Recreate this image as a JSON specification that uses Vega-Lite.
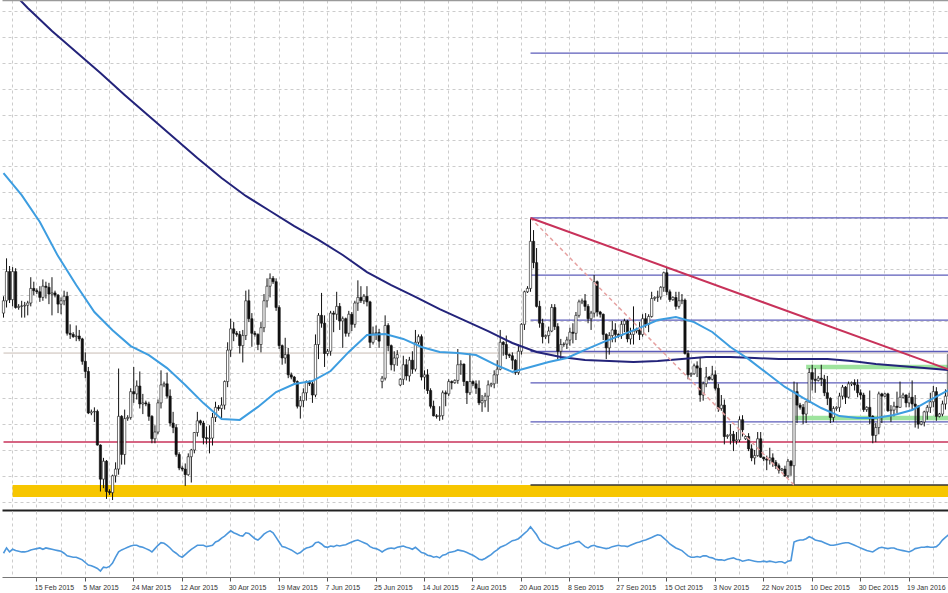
{
"$schema":"https://vega.github.io/schema/vega-lite/v6.json",
"padding":0,
"background":"white",
"spacing":1,
"config":{"view":{"stroke":null},"font":"Liberation Sans"},
"params":[{"name":"lbl","value":["2015-02-15","2015-03-05","2015-03-24","2015-04-12","2015-04-30","2015-05-19","2015-06-07","2015-06-25","2015-07-14","2015-08-02","2015-08-20","2015-09-08","2015-09-27","2015-10-15","2015-11-03","2015-11-22","2015-12-10","2015-12-30","2016-01-19"]}],
"datasets":{
"k":[
{"d":"2015-02-02","o":1.129,"h":1.1365,"l":1.127,"c":1.1345,"r":36},
{"d":"2015-02-03","o":1.1345,"h":1.1534,"l":1.1315,"c":1.1475,"r":44},
{"d":"2015-02-04","o":1.1475,"h":1.15,"l":1.1335,"c":1.135,"r":38},
{"d":"2015-02-05","o":1.135,"h":1.1495,"l":1.132,"c":1.1475,"r":42},
{"d":"2015-02-06","o":1.1475,"h":1.149,"l":1.131,"c":1.1315,"r":40},
{"d":"2015-02-08","o":1.1315,"h":1.133,"l":1.1305,"c":1.132,"r":39},
{"d":"2015-02-09","o":1.132,"h":1.1345,"l":1.127,"c":1.1322,"r":38},
{"d":"2015-02-10","o":1.1322,"h":1.134,"l":1.127,"c":1.1325,"r":38},
{"d":"2015-02-11","o":1.1325,"h":1.1345,"l":1.128,"c":1.1335,"r":39},
{"d":"2015-02-12","o":1.1335,"h":1.145,"l":1.132,"c":1.14,"r":41},
{"d":"2015-02-13","o":1.14,"h":1.143,"l":1.137,"c":1.139,"r":42},
{"d":"2015-02-15","o":1.139,"h":1.14,"l":1.1375,"c":1.1385,"r":43},
{"d":"2015-02-16","o":1.1385,"h":1.141,"l":1.134,"c":1.136,"r":44},
{"d":"2015-02-17","o":1.136,"h":1.144,"l":1.1345,"c":1.141,"r":42},
{"d":"2015-02-18","o":1.141,"h":1.143,"l":1.1355,"c":1.1405,"r":44},
{"d":"2015-02-19","o":1.1405,"h":1.1425,"l":1.133,"c":1.1375,"r":43},
{"d":"2015-02-20","o":1.1375,"h":1.145,"l":1.128,"c":1.138,"r":42},
{"d":"2015-02-22","o":1.138,"h":1.139,"l":1.136,"c":1.137,"r":41},
{"d":"2015-02-23","o":1.137,"h":1.1375,"l":1.129,"c":1.133,"r":40},
{"d":"2015-02-24","o":1.133,"h":1.136,"l":1.1285,"c":1.1345,"r":39},
{"d":"2015-02-25","o":1.1345,"h":1.139,"l":1.1325,"c":1.1365,"r":36},
{"d":"2015-02-26","o":1.1365,"h":1.1385,"l":1.119,"c":1.12,"r":32},
{"d":"2015-02-27","o":1.12,"h":1.124,"l":1.1175,"c":1.1195,"r":31},
{"d":"2015-03-01","o":1.1195,"h":1.1205,"l":1.118,"c":1.1185,"r":30},
{"d":"2015-03-02","o":1.1185,"h":1.1235,"l":1.1165,"c":1.1188,"r":30},
{"d":"2015-03-03","o":1.1188,"h":1.1215,"l":1.1165,"c":1.1175,"r":28},
{"d":"2015-03-04","o":1.1175,"h":1.118,"l":1.106,"c":1.1075,"r":26},
{"d":"2015-03-05","o":1.1075,"h":1.1115,"l":1.1,"c":1.103,"r":22},
{"d":"2015-03-06","o":1.103,"h":1.105,"l":1.084,"c":1.0845,"r":18},
{"d":"2015-03-08","o":1.0845,"h":1.086,"l":1.0835,"c":1.085,"r":17},
{"d":"2015-03-09","o":1.085,"h":1.087,"l":1.0805,"c":1.0852,"r":15},
{"d":"2015-03-10","o":1.0852,"h":1.086,"l":1.07,"c":1.0702,"r":13},
{"d":"2015-03-11","o":1.0702,"h":1.0705,"l":1.0495,"c":1.055,"r":9},
{"d":"2015-03-12","o":1.055,"h":1.0645,"l":1.051,"c":1.063,"r":15},
{"d":"2015-03-13","o":1.063,"h":1.0635,"l":1.0462,"c":1.0495,"r":14},
{"d":"2015-03-15","o":1.0495,"h":1.0505,"l":1.048,"c":1.049,"r":16},
{"d":"2015-03-16","o":1.049,"h":1.057,"l":1.0457,"c":1.0565,"r":21},
{"d":"2015-03-17","o":1.0565,"h":1.0625,"l":1.0535,"c":1.0595,"r":30},
{"d":"2015-03-18","o":1.0595,"h":1.1043,"l":1.057,"c":1.083,"r":38},
{"d":"2015-03-19","o":1.083,"h":1.0835,"l":1.0615,"c":1.066,"r":41},
{"d":"2015-03-20","o":1.066,"h":1.086,"l":1.0615,"c":1.082,"r":43},
{"d":"2015-03-22","o":1.082,"h":1.0835,"l":1.081,"c":1.0825,"r":45},
{"d":"2015-03-23","o":1.0825,"h":1.0955,"l":1.0815,"c":1.094,"r":47},
{"d":"2015-03-24","o":1.094,"h":1.105,"l":1.089,"c":1.093,"r":48},
{"d":"2015-03-25","o":1.093,"h":1.099,"l":1.0905,"c":1.0965,"r":48},
{"d":"2015-03-26","o":1.0965,"h":1.103,"l":1.0865,"c":1.0885,"r":46},
{"d":"2015-03-27","o":1.0885,"h":1.093,"l":1.084,"c":1.089,"r":45},
{"d":"2015-03-29","o":1.089,"h":1.09,"l":1.0875,"c":1.0885,"r":43},
{"d":"2015-03-30","o":1.0885,"h":1.0895,"l":1.081,"c":1.083,"r":41},
{"d":"2015-03-31","o":1.083,"h":1.0835,"l":1.071,"c":1.073,"r":38},
{"d":"2015-04-01","o":1.073,"h":1.079,"l":1.071,"c":1.076,"r":43},
{"d":"2015-04-02","o":1.076,"h":1.0905,"l":1.075,"c":1.089,"r":48},
{"d":"2015-04-03","o":1.089,"h":1.1035,"l":1.0865,"c":1.097,"r":52},
{"d":"2015-04-05","o":1.097,"h":1.0985,"l":1.096,"c":1.0975,"r":51},
{"d":"2015-04-06","o":1.0975,"h":1.1025,"l":1.091,"c":1.092,"r":48},
{"d":"2015-04-07","o":1.092,"h":1.095,"l":1.0785,"c":1.08,"r":44},
{"d":"2015-04-08","o":1.08,"h":1.085,"l":1.0755,"c":1.078,"r":39},
{"d":"2015-04-09","o":1.078,"h":1.0795,"l":1.065,"c":1.066,"r":36},
{"d":"2015-04-10","o":1.066,"h":1.067,"l":1.059,"c":1.06,"r":32},
{"d":"2015-04-12","o":1.06,"h":1.061,"l":1.0585,"c":1.0595,"r":30},
{"d":"2015-04-13","o":1.0595,"h":1.062,"l":1.052,"c":1.057,"r":34},
{"d":"2015-04-14","o":1.057,"h":1.0665,"l":1.0565,"c":1.065,"r":38},
{"d":"2015-04-15","o":1.065,"h":1.0685,"l":1.0535,"c":1.068,"r":42},
{"d":"2015-04-16","o":1.068,"h":1.076,"l":1.0665,"c":1.0758,"r":45},
{"d":"2015-04-17","o":1.0758,"h":1.085,"l":1.074,"c":1.081,"r":48},
{"d":"2015-04-19","o":1.081,"h":1.0815,"l":1.079,"c":1.08,"r":48},
{"d":"2015-04-20","o":1.08,"h":1.081,"l":1.0705,"c":1.0735,"r":48},
{"d":"2015-04-21","o":1.0735,"h":1.0785,"l":1.0705,"c":1.073,"r":46},
{"d":"2015-04-22","o":1.073,"h":1.079,"l":1.0665,"c":1.0733,"r":47},
{"d":"2015-04-23","o":1.0733,"h":1.0845,"l":1.07,"c":1.0825,"r":48},
{"d":"2015-04-24","o":1.0825,"h":1.0895,"l":1.0805,"c":1.087,"r":53},
{"d":"2015-04-26","o":1.087,"h":1.088,"l":1.0855,"c":1.0865,"r":55},
{"d":"2015-04-27","o":1.0865,"h":1.0915,"l":1.082,"c":1.088,"r":59},
{"d":"2015-04-28","o":1.088,"h":1.099,"l":1.086,"c":1.0985,"r":62},
{"d":"2015-04-29","o":1.0985,"h":1.116,"l":1.096,"c":1.1125,"r":66},
{"d":"2015-04-30","o":1.1125,"h":1.1265,"l":1.1095,"c":1.122,"r":70},
{"d":"2015-05-01","o":1.122,"h":1.125,"l":1.1165,"c":1.12,"r":67},
{"d":"2015-05-03","o":1.12,"h":1.121,"l":1.1185,"c":1.1195,"r":65},
{"d":"2015-05-04","o":1.1195,"h":1.121,"l":1.111,"c":1.1145,"r":63},
{"d":"2015-05-05","o":1.1145,"h":1.1215,"l":1.107,"c":1.119,"r":62},
{"d":"2015-05-06","o":1.119,"h":1.139,"l":1.117,"c":1.1345,"r":67},
{"d":"2015-05-07","o":1.1345,"h":1.1395,"l":1.125,"c":1.1265,"r":66},
{"d":"2015-05-08","o":1.1265,"h":1.129,"l":1.114,"c":1.12,"r":62},
{"d":"2015-05-10","o":1.12,"h":1.121,"l":1.1185,"c":1.1195,"r":58},
{"d":"2015-05-11","o":1.1195,"h":1.12,"l":1.1125,"c":1.115,"r":56},
{"d":"2015-05-12","o":1.115,"h":1.125,"l":1.1115,"c":1.1225,"r":60},
{"d":"2015-05-13","o":1.1225,"h":1.1375,"l":1.1205,"c":1.1345,"r":65},
{"d":"2015-05-14","o":1.1345,"h":1.1445,"l":1.1315,"c":1.141,"r":68},
{"d":"2015-05-15","o":1.141,"h":1.1467,"l":1.136,"c":1.1445,"r":70},
{"d":"2015-05-17","o":1.1445,"h":1.1455,"l":1.142,"c":1.143,"r":67},
{"d":"2015-05-18","o":1.143,"h":1.1445,"l":1.13,"c":1.1315,"r":60},
{"d":"2015-05-19","o":1.1315,"h":1.1325,"l":1.113,"c":1.1145,"r":53},
{"d":"2015-05-20","o":1.1145,"h":1.115,"l":1.106,"c":1.109,"r":46},
{"d":"2015-05-21","o":1.109,"h":1.118,"l":1.1065,"c":1.1105,"r":45},
{"d":"2015-05-22","o":1.1105,"h":1.1135,"l":1.1,"c":1.1015,"r":43},
{"d":"2015-05-24","o":1.1015,"h":1.1025,"l":1.0995,"c":1.1005,"r":41},
{"d":"2015-05-25","o":1.1005,"h":1.101,"l":1.097,"c":1.0985,"r":38},
{"d":"2015-05-26","o":1.0985,"h":1.099,"l":1.0865,"c":1.0875,"r":35},
{"d":"2015-05-27","o":1.0875,"h":1.092,"l":1.082,"c":1.09,"r":37},
{"d":"2015-05-28","o":1.09,"h":1.0955,"l":1.087,"c":1.0935,"r":41},
{"d":"2015-05-29","o":1.0935,"h":1.099,"l":1.09,"c":1.0985,"r":44},
{"d":"2015-05-31","o":1.0985,"h":1.099,"l":1.0965,"c":1.0975,"r":45},
{"d":"2015-06-01","o":1.0975,"h":1.0985,"l":1.089,"c":1.0925,"r":47},
{"d":"2015-06-02","o":1.0925,"h":1.1195,"l":1.0915,"c":1.115,"r":52},
{"d":"2015-06-03","o":1.115,"h":1.129,"l":1.1085,"c":1.128,"r":53},
{"d":"2015-06-04","o":1.128,"h":1.138,"l":1.1225,"c":1.1245,"r":50},
{"d":"2015-06-05","o":1.1245,"h":1.128,"l":1.105,"c":1.111,"r":46},
{"d":"2015-06-07","o":1.111,"h":1.113,"l":1.11,"c":1.112,"r":45},
{"d":"2015-06-08","o":1.112,"h":1.13,"l":1.11,"c":1.129,"r":47},
{"d":"2015-06-09","o":1.129,"h":1.13,"l":1.1205,"c":1.1285,"r":46},
{"d":"2015-06-10","o":1.1285,"h":1.1385,"l":1.126,"c":1.132,"r":48},
{"d":"2015-06-11","o":1.132,"h":1.1335,"l":1.1215,"c":1.1255,"r":47},
{"d":"2015-06-12","o":1.1255,"h":1.1275,"l":1.1135,"c":1.1265,"r":48},
{"d":"2015-06-14","o":1.1265,"h":1.127,"l":1.1185,"c":1.12,"r":49},
{"d":"2015-06-15","o":1.12,"h":1.13,"l":1.1185,"c":1.1285,"r":51},
{"d":"2015-06-16","o":1.1285,"h":1.1295,"l":1.121,"c":1.124,"r":53},
{"d":"2015-06-17","o":1.124,"h":1.1345,"l":1.1225,"c":1.1335,"r":55},
{"d":"2015-06-18","o":1.1335,"h":1.1436,"l":1.13,"c":1.136,"r":56},
{"d":"2015-06-19","o":1.136,"h":1.141,"l":1.1335,"c":1.1345,"r":54},
{"d":"2015-06-21","o":1.1345,"h":1.1375,"l":1.133,"c":1.1365,"r":52},
{"d":"2015-06-22","o":1.1365,"h":1.141,"l":1.132,"c":1.134,"r":50},
{"d":"2015-06-23","o":1.134,"h":1.1345,"l":1.1135,"c":1.116,"r":46},
{"d":"2015-06-24","o":1.116,"h":1.123,"l":1.115,"c":1.12,"r":44},
{"d":"2015-06-25","o":1.12,"h":1.1235,"l":1.117,"c":1.1203,"r":43},
{"d":"2015-06-26","o":1.1203,"h":1.122,"l":1.1135,"c":1.1165,"r":41},
{"d":"2015-06-28","o":1.0985,"h":1.101,"l":1.0955,"c":1.1,"r":38},
{"d":"2015-06-29","o":1.1,"h":1.128,"l":1.099,"c":1.1235,"r":41},
{"d":"2015-06-30","o":1.1235,"h":1.1245,"l":1.112,"c":1.1145,"r":43},
{"d":"2015-07-01","o":1.1145,"h":1.115,"l":1.1035,"c":1.106,"r":44},
{"d":"2015-07-02","o":1.106,"h":1.112,"l":1.103,"c":1.109,"r":43},
{"d":"2015-07-03","o":1.109,"h":1.1125,"l":1.1055,"c":1.1105,"r":45},
{"d":"2015-07-05","o":1.097,"h":1.1,"l":1.0965,"c":1.0995,"r":46},
{"d":"2015-07-06","o":1.0995,"h":1.11,"l":1.097,"c":1.106,"r":47},
{"d":"2015-07-07","o":1.106,"h":1.1085,"l":1.099,"c":1.101,"r":45},
{"d":"2015-07-08","o":1.101,"h":1.1095,"l":1.0985,"c":1.108,"r":44},
{"d":"2015-07-09","o":1.108,"h":1.112,"l":1.102,"c":1.104,"r":42},
{"d":"2015-07-10","o":1.104,"h":1.1215,"l":1.103,"c":1.116,"r":45},
{"d":"2015-07-12","o":1.116,"h":1.1195,"l":1.115,"c":1.1185,"r":41},
{"d":"2015-07-13","o":1.1185,"h":1.1195,"l":1.099,"c":1.1005,"r":37},
{"d":"2015-07-14","o":1.1005,"h":1.1035,"l":1.095,"c":1.1015,"r":36},
{"d":"2015-07-15","o":1.1015,"h":1.104,"l":1.093,"c":1.0945,"r":33},
{"d":"2015-07-16","o":1.0945,"h":1.0955,"l":1.0865,"c":1.0875,"r":32},
{"d":"2015-07-17","o":1.0875,"h":1.09,"l":1.083,"c":1.0832,"r":30},
{"d":"2015-07-19","o":1.0832,"h":1.084,"l":1.082,"c":1.083,"r":31},
{"d":"2015-07-20","o":1.083,"h":1.0875,"l":1.081,"c":1.0833,"r":29},
{"d":"2015-07-21","o":1.0833,"h":1.0945,"l":1.0815,"c":1.0935,"r":33},
{"d":"2015-07-22","o":1.0935,"h":1.0945,"l":1.0875,"c":1.093,"r":34},
{"d":"2015-07-23","o":1.093,"h":1.0995,"l":1.092,"c":1.0985,"r":37},
{"d":"2015-07-24","o":1.0985,"h":1.099,"l":1.095,"c":1.098,"r":38},
{"d":"2015-07-26","o":1.098,"h":1.0995,"l":1.0975,"c":1.099,"r":39},
{"d":"2015-07-27","o":1.099,"h":1.113,"l":1.0975,"c":1.106,"r":41},
{"d":"2015-07-28","o":1.106,"h":1.108,"l":1.1015,"c":1.1063,"r":40},
{"d":"2015-07-29","o":1.1063,"h":1.1065,"l":1.0965,"c":1.0985,"r":39},
{"d":"2015-07-30","o":1.0985,"h":1.0988,"l":1.0885,"c":1.0935,"r":37},
{"d":"2015-07-31","o":1.0935,"h":1.111,"l":1.0925,"c":1.0985,"r":35},
{"d":"2015-08-02","o":1.0985,"h":1.099,"l":1.0965,"c":1.0975,"r":33},
{"d":"2015-08-03","o":1.0975,"h":1.099,"l":1.093,"c":1.0955,"r":30},
{"d":"2015-08-04","o":1.0955,"h":1.099,"l":1.088,"c":1.089,"r":27},
{"d":"2015-08-05","o":1.089,"h":1.0925,"l":1.085,"c":1.09,"r":26},
{"d":"2015-08-06","o":1.09,"h":1.0935,"l":1.087,"c":1.092,"r":28},
{"d":"2015-08-07","o":1.092,"h":1.099,"l":1.085,"c":1.097,"r":31},
{"d":"2015-08-09","o":1.097,"h":1.098,"l":1.096,"c":1.0975,"r":34},
{"d":"2015-08-10","o":1.0975,"h":1.1035,"l":1.0955,"c":1.1015,"r":38},
{"d":"2015-08-11","o":1.1015,"h":1.108,"l":1.0975,"c":1.104,"r":41},
{"d":"2015-08-12","o":1.104,"h":1.1215,"l":1.1035,"c":1.116,"r":45},
{"d":"2015-08-13","o":1.116,"h":1.1165,"l":1.11,"c":1.115,"r":47},
{"d":"2015-08-14","o":1.115,"h":1.119,"l":1.1085,"c":1.1105,"r":49},
{"d":"2015-08-16","o":1.1105,"h":1.111,"l":1.109,"c":1.11,"r":52},
{"d":"2015-08-17","o":1.11,"h":1.1115,"l":1.104,"c":1.108,"r":55},
{"d":"2015-08-18","o":1.108,"h":1.1085,"l":1.1015,"c":1.1025,"r":56},
{"d":"2015-08-19","o":1.1025,"h":1.115,"l":1.1015,"c":1.112,"r":58},
{"d":"2015-08-20","o":1.112,"h":1.1245,"l":1.1105,"c":1.124,"r":62},
{"d":"2015-08-21","o":1.124,"h":1.139,"l":1.1215,"c":1.1385,"r":66},
{"d":"2015-08-23","o":1.1385,"h":1.141,"l":1.138,"c":1.14,"r":70},
{"d":"2015-08-24","o":1.14,"h":1.1714,"l":1.1385,"c":1.161,"r":76},
{"d":"2015-08-25","o":1.161,"h":1.166,"l":1.149,"c":1.1515,"r":70},
{"d":"2015-08-26","o":1.1515,"h":1.158,"l":1.1315,"c":1.132,"r":64},
{"d":"2015-08-27","o":1.132,"h":1.1345,"l":1.1225,"c":1.1245,"r":56},
{"d":"2015-08-28","o":1.1245,"h":1.1265,"l":1.1155,"c":1.1185,"r":52},
{"d":"2015-08-30","o":1.1185,"h":1.1195,"l":1.1175,"c":1.119,"r":50},
{"d":"2015-08-31","o":1.119,"h":1.123,"l":1.1155,"c":1.121,"r":48},
{"d":"2015-09-01","o":1.121,"h":1.133,"l":1.1205,"c":1.1315,"r":46},
{"d":"2015-09-02","o":1.1315,"h":1.133,"l":1.1215,"c":1.123,"r":44},
{"d":"2015-09-03","o":1.123,"h":1.1245,"l":1.1085,"c":1.112,"r":43},
{"d":"2015-09-04","o":1.112,"h":1.1175,"l":1.1085,"c":1.115,"r":45},
{"d":"2015-09-06","o":1.115,"h":1.116,"l":1.114,"c":1.1152,"r":47},
{"d":"2015-09-07","o":1.1152,"h":1.1185,"l":1.113,"c":1.117,"r":48},
{"d":"2015-09-08","o":1.117,"h":1.1225,"l":1.1145,"c":1.1205,"r":50},
{"d":"2015-09-09","o":1.1205,"h":1.1245,"l":1.1155,"c":1.12,"r":51},
{"d":"2015-09-10","o":1.12,"h":1.1295,"l":1.117,"c":1.128,"r":53},
{"d":"2015-09-11","o":1.128,"h":1.135,"l":1.127,"c":1.134,"r":54},
{"d":"2015-09-13","o":1.134,"h":1.1355,"l":1.133,"c":1.1345,"r":50},
{"d":"2015-09-14","o":1.1345,"h":1.1375,"l":1.13,"c":1.132,"r":46},
{"d":"2015-09-15","o":1.132,"h":1.133,"l":1.1245,"c":1.1265,"r":44},
{"d":"2015-09-16","o":1.1265,"h":1.13,"l":1.1215,"c":1.129,"r":47},
{"d":"2015-09-17","o":1.129,"h":1.146,"l":1.127,"c":1.143,"r":48},
{"d":"2015-09-18","o":1.143,"h":1.1435,"l":1.1275,"c":1.1295,"r":46},
{"d":"2015-09-20","o":1.1295,"h":1.13,"l":1.127,"c":1.1285,"r":45},
{"d":"2015-09-21","o":1.1285,"h":1.1288,"l":1.117,"c":1.1195,"r":44},
{"d":"2015-09-22","o":1.1195,"h":1.12,"l":1.1085,"c":1.1135,"r":43},
{"d":"2015-09-23","o":1.1135,"h":1.1205,"l":1.1105,"c":1.119,"r":44},
{"d":"2015-09-24","o":1.119,"h":1.1255,"l":1.116,"c":1.1215,"r":46},
{"d":"2015-09-25","o":1.1215,"h":1.1245,"l":1.116,"c":1.1195,"r":47},
{"d":"2015-09-27","o":1.1195,"h":1.12,"l":1.118,"c":1.119,"r":48},
{"d":"2015-09-28","o":1.119,"h":1.1255,"l":1.1175,"c":1.124,"r":47},
{"d":"2015-09-29","o":1.124,"h":1.1265,"l":1.1205,"c":1.1255,"r":47},
{"d":"2015-09-30","o":1.1255,"h":1.126,"l":1.116,"c":1.1175,"r":46},
{"d":"2015-10-01","o":1.1175,"h":1.1225,"l":1.115,"c":1.1195,"r":48},
{"d":"2015-10-02","o":1.1195,"h":1.132,"l":1.115,"c":1.121,"r":50},
{"d":"2015-10-04","o":1.121,"h":1.1225,"l":1.12,"c":1.1215,"r":52},
{"d":"2015-10-05","o":1.1215,"h":1.125,"l":1.117,"c":1.1195,"r":53},
{"d":"2015-10-06","o":1.1195,"h":1.1285,"l":1.1185,"c":1.1265,"r":55},
{"d":"2015-10-07","o":1.1265,"h":1.129,"l":1.1225,"c":1.124,"r":56},
{"d":"2015-10-08","o":1.124,"h":1.1285,"l":1.1205,"c":1.1275,"r":58},
{"d":"2015-10-09","o":1.1275,"h":1.1385,"l":1.127,"c":1.1355,"r":60},
{"d":"2015-10-11","o":1.1355,"h":1.1365,"l":1.1345,"c":1.136,"r":62},
{"d":"2015-10-12","o":1.136,"h":1.139,"l":1.134,"c":1.1362,"r":64},
{"d":"2015-10-13","o":1.1362,"h":1.141,"l":1.135,"c":1.1405,"r":63},
{"d":"2015-10-14","o":1.1405,"h":1.1475,"l":1.1385,"c":1.147,"r":59},
{"d":"2015-10-15","o":1.147,"h":1.1495,"l":1.137,"c":1.1385,"r":55},
{"d":"2015-10-16","o":1.1385,"h":1.1395,"l":1.134,"c":1.135,"r":50},
{"d":"2015-10-18","o":1.135,"h":1.1365,"l":1.1345,"c":1.136,"r":47},
{"d":"2015-10-19","o":1.136,"h":1.1385,"l":1.1305,"c":1.132,"r":44},
{"d":"2015-10-20","o":1.132,"h":1.1385,"l":1.131,"c":1.1345,"r":42},
{"d":"2015-10-21","o":1.1345,"h":1.1375,"l":1.133,"c":1.1348,"r":40},
{"d":"2015-10-22","o":1.1348,"h":1.1355,"l":1.1105,"c":1.111,"r":36},
{"d":"2015-10-23","o":1.111,"h":1.1125,"l":1.0995,"c":1.1015,"r":32},
{"d":"2015-10-25","o":1.1015,"h":1.1025,"l":1.1005,"c":1.102,"r":30},
{"d":"2015-10-26","o":1.102,"h":1.1065,"l":1.1015,"c":1.1055,"r":30},
{"d":"2015-10-27","o":1.1055,"h":1.1075,"l":1.1005,"c":1.1045,"r":31},
{"d":"2015-10-28","o":1.1045,"h":1.1095,"l":1.0895,"c":1.0925,"r":30},
{"d":"2015-10-29","o":1.0925,"h":1.0985,"l":1.09,"c":1.0975,"r":32},
{"d":"2015-10-30","o":1.0975,"h":1.105,"l":1.096,"c":1.1005,"r":32},
{"d":"2015-11-01","o":1.1005,"h":1.101,"l":1.099,"c":1.0995,"r":30},
{"d":"2015-11-02","o":1.0995,"h":1.1055,"l":1.099,"c":1.1015,"r":29},
{"d":"2015-11-03","o":1.1015,"h":1.1035,"l":1.0945,"c":1.0955,"r":27},
{"d":"2015-11-04","o":1.0955,"h":1.0975,"l":1.085,"c":1.0865,"r":26},
{"d":"2015-11-05","o":1.0865,"h":1.0925,"l":1.0855,"c":1.088,"r":26},
{"d":"2015-11-06","o":1.088,"h":1.0905,"l":1.0705,"c":1.074,"r":25},
{"d":"2015-11-08","o":1.074,"h":1.075,"l":1.073,"c":1.0745,"r":27},
{"d":"2015-11-09","o":1.0745,"h":1.0795,"l":1.0705,"c":1.075,"r":28},
{"d":"2015-11-10","o":1.075,"h":1.0765,"l":1.0675,"c":1.072,"r":29},
{"d":"2015-11-11","o":1.072,"h":1.076,"l":1.0705,"c":1.0725,"r":27},
{"d":"2015-11-12","o":1.0725,"h":1.083,"l":1.0715,"c":1.0815,"r":26},
{"d":"2015-11-13","o":1.0815,"h":1.0835,"l":1.074,"c":1.077,"r":24},
{"d":"2015-11-15","o":1.073,"h":1.0745,"l":1.0725,"c":1.074,"r":25},
{"d":"2015-11-16","o":1.074,"h":1.0755,"l":1.0675,"c":1.0685,"r":26},
{"d":"2015-11-17","o":1.0685,"h":1.0705,"l":1.063,"c":1.0645,"r":25},
{"d":"2015-11-18","o":1.0645,"h":1.068,"l":1.0615,"c":1.0655,"r":24},
{"d":"2015-11-19","o":1.0655,"h":1.076,"l":1.065,"c":1.073,"r":23},
{"d":"2015-11-20","o":1.073,"h":1.076,"l":1.0645,"c":1.0648,"r":23},
{"d":"2015-11-22","o":1.0648,"h":1.065,"l":1.063,"c":1.064,"r":24},
{"d":"2015-11-23","o":1.064,"h":1.0655,"l":1.059,"c":1.0635,"r":23},
{"d":"2015-11-24","o":1.0635,"h":1.069,"l":1.0615,"c":1.0645,"r":24},
{"d":"2015-11-25","o":1.0645,"h":1.0665,"l":1.0605,"c":1.0625,"r":23},
{"d":"2015-11-26","o":1.0625,"h":1.0635,"l":1.0595,"c":1.061,"r":22},
{"d":"2015-11-27","o":1.061,"h":1.062,"l":1.0575,"c":1.059,"r":23},
{"d":"2015-11-29","o":1.059,"h":1.06,"l":1.0585,"c":1.0595,"r":23},
{"d":"2015-11-30","o":1.0595,"h":1.061,"l":1.056,"c":1.0565,"r":21},
{"d":"2015-12-01","o":1.0565,"h":1.064,"l":1.0555,"c":1.063,"r":24},
{"d":"2015-12-02","o":1.063,"h":1.0635,"l":1.0565,"c":1.061,"r":25},
{"d":"2015-12-03","o":1.061,"h":1.0985,"l":1.0524,"c":1.094,"r":53},
{"d":"2015-12-04","o":1.094,"h":1.098,"l":1.08,"c":1.088,"r":55},
{"d":"2015-12-06","o":1.088,"h":1.089,"l":1.086,"c":1.087,"r":56},
{"d":"2015-12-07","o":1.087,"h":1.0885,"l":1.0795,"c":1.084,"r":56},
{"d":"2015-12-08","o":1.084,"h":1.0895,"l":1.08,"c":1.0895,"r":58},
{"d":"2015-12-09","o":1.0895,"h":1.1045,"l":1.089,"c":1.1025,"r":61},
{"d":"2015-12-10","o":1.1025,"h":1.106,"l":1.0945,"c":1.0995,"r":59},
{"d":"2015-12-11","o":1.0995,"h":1.1045,"l":1.0935,"c":1.099,"r":56},
{"d":"2015-12-13","o":1.099,"h":1.101,"l":1.0985,"c":1.1,"r":55},
{"d":"2015-12-14","o":1.1,"h":1.106,"l":1.0965,"c":1.0995,"r":54},
{"d":"2015-12-15","o":1.0995,"h":1.1015,"l":1.092,"c":1.0935,"r":52},
{"d":"2015-12-16","o":1.0935,"h":1.101,"l":1.088,"c":1.091,"r":50},
{"d":"2015-12-17","o":1.091,"h":1.0915,"l":1.08,"c":1.0825,"r":48},
{"d":"2015-12-18","o":1.0825,"h":1.0875,"l":1.0805,"c":1.0865,"r":48},
{"d":"2015-12-20","o":1.0865,"h":1.0875,"l":1.0855,"c":1.087,"r":49},
{"d":"2015-12-21","o":1.087,"h":1.0935,"l":1.085,"c":1.092,"r":50},
{"d":"2015-12-22","o":1.092,"h":1.097,"l":1.0905,"c":1.096,"r":51},
{"d":"2015-12-23","o":1.096,"h":1.0965,"l":1.0885,"c":1.0915,"r":52},
{"d":"2015-12-24","o":1.0915,"h":1.0985,"l":1.091,"c":1.0975,"r":52},
{"d":"2015-12-27","o":1.0975,"h":1.0985,"l":1.0965,"c":1.098,"r":50},
{"d":"2015-12-28","o":1.098,"h":1.0995,"l":1.0945,"c":1.097,"r":48},
{"d":"2015-12-29","o":1.097,"h":1.0995,"l":1.0915,"c":1.0935,"r":46},
{"d":"2015-12-30","o":1.0935,"h":1.095,"l":1.0905,"c":1.0925,"r":44},
{"d":"2015-12-31","o":1.0925,"h":1.0935,"l":1.085,"c":1.086,"r":42},
{"d":"2016-01-03","o":1.086,"h":1.0875,"l":1.085,"c":1.087,"r":40},
{"d":"2016-01-04","o":1.087,"h":1.0945,"l":1.0795,"c":1.083,"r":39},
{"d":"2016-01-05","o":1.083,"h":1.0835,"l":1.071,"c":1.0745,"r":38},
{"d":"2016-01-06","o":1.0745,"h":1.08,"l":1.0715,"c":1.078,"r":41},
{"d":"2016-01-07","o":1.078,"h":1.094,"l":1.075,"c":1.093,"r":44},
{"d":"2016-01-08","o":1.093,"h":1.0935,"l":1.08,"c":1.092,"r":45},
{"d":"2016-01-10","o":1.092,"h":1.0935,"l":1.0915,"c":1.093,"r":44},
{"d":"2016-01-11","o":1.093,"h":1.0935,"l":1.085,"c":1.0855,"r":43},
{"d":"2016-01-12","o":1.0855,"h":1.088,"l":1.0805,"c":1.0858,"r":44},
{"d":"2016-01-13","o":1.0858,"h":1.0895,"l":1.083,"c":1.0875,"r":44},
{"d":"2016-01-14","o":1.0875,"h":1.094,"l":1.0845,"c":1.087,"r":42},
{"d":"2016-01-15","o":1.087,"h":1.0985,"l":1.0868,"c":1.0915,"r":41},
{"d":"2016-01-17","o":1.0915,"h":1.0935,"l":1.091,"c":1.0925,"r":40},
{"d":"2016-01-18","o":1.0925,"h":1.0928,"l":1.087,"c":1.089,"r":39},
{"d":"2016-01-19","o":1.089,"h":1.0935,"l":1.087,"c":1.0915,"r":38},
{"d":"2016-01-20","o":1.0915,"h":1.099,"l":1.086,"c":1.0885,"r":40},
{"d":"2016-01-21","o":1.0885,"h":1.0925,"l":1.078,"c":1.0875,"r":43},
{"d":"2016-01-22","o":1.0875,"h":1.088,"l":1.0775,"c":1.0795,"r":44},
{"d":"2016-01-24","o":1.0795,"h":1.081,"l":1.079,"c":1.0805,"r":45},
{"d":"2016-01-25","o":1.0805,"h":1.0855,"l":1.0785,"c":1.085,"r":45},
{"d":"2016-01-26","o":1.085,"h":1.088,"l":1.0815,"c":1.087,"r":46},
{"d":"2016-01-27","o":1.087,"h":1.0935,"l":1.0845,"c":1.0895,"r":45},
{"d":"2016-01-28","o":1.0895,"h":1.0965,"l":1.087,"c":1.094,"r":45},
{"d":"2016-01-29","o":1.094,"h":1.096,"l":1.081,"c":1.083,"r":46},
{"d":"2016-01-31","o":1.083,"h":1.0845,"l":1.0825,"c":1.084,"r":50},
{"d":"2016-02-01","o":1.084,"h":1.09,"l":1.083,"c":1.0885,"r":56},
{"d":"2016-02-02","o":1.0885,"h":1.095,"l":1.086,"c":1.092,"r":60},
{"d":"2016-02-03","o":1.092,"h":1.1115,"l":1.091,"c":1.1105,"r":64}
],
"m50":[
{"d":"2015-02-02","a":1.1914},{"d":"2015-02-09","a":1.1816},{"d":"2015-02-16","a":1.1696},{"d":"2015-02-23","a":1.1544},
{"d":"2015-03-02","a":1.1415},{"d":"2015-03-09","a":1.1295},{"d":"2015-03-16","a":1.1214},{"d":"2015-03-23","a":1.1143},
{"d":"2015-03-30","a":1.1103},{"d":"2015-04-06","a":1.1045},{"d":"2015-04-13","a":1.097},{"d":"2015-04-20","a":1.0889},
{"d":"2015-04-27","a":1.0818},{"d":"2015-05-04","a":1.0814},{"d":"2015-05-11","a":1.0872},{"d":"2015-05-18","a":1.0938},
{"d":"2015-05-25","a":1.0974},{"d":"2015-06-01","a":1.0987},{"d":"2015-06-08","a":1.1032},{"d":"2015-06-15","a":1.1117},
{"d":"2015-06-22","a":1.1192},{"d":"2015-06-29","a":1.1197},{"d":"2015-07-06","a":1.1175},{"d":"2015-07-13","a":1.1139},
{"d":"2015-07-20","a":1.1117},{"d":"2015-07-27","a":1.1112},{"d":"2015-08-03","a":1.1103},{"d":"2015-08-10","a":1.1063},
{"d":"2015-08-17","a":1.1028},{"d":"2015-08-24","a":1.105},{"d":"2015-08-31","a":1.1072},{"d":"2015-09-07","a":1.109},
{"d":"2015-09-14","a":1.1126},{"d":"2015-09-21","a":1.1161},{"d":"2015-09-28","a":1.1192},{"d":"2015-10-05","a":1.1224},
{"d":"2015-10-12","a":1.1259},{"d":"2015-10-19","a":1.1273},{"d":"2015-10-26","a":1.125},{"d":"2015-11-02","a":1.1206},
{"d":"2015-11-09","a":1.1139},{"d":"2015-11-16","a":1.1085},{"d":"2015-11-23","a":1.1023},{"d":"2015-11-30","a":1.0961},
{"d":"2015-12-07","a":1.0912},{"d":"2015-12-14","a":1.0867},{"d":"2015-12-21","a":1.0831},{"d":"2015-12-29","a":1.0823},
{"d":"2016-01-06","a":1.0823},{"d":"2016-01-13","a":1.0836},{"d":"2016-01-20","a":1.0858},{"d":"2016-01-27","a":1.0903},
{"d":"2016-02-03","a":1.0947}
],
"m200":[
{"d":"2015-02-02","b":1.2761},{"d":"2015-02-11","b":1.265},{"d":"2015-02-20","b":1.2547},{"d":"2015-03-02","b":1.2454},
{"d":"2015-03-11","b":1.236},{"d":"2015-03-20","b":1.2262},{"d":"2015-03-30","b":1.2168},{"d":"2015-04-08","b":1.2075},
{"d":"2015-04-17","b":1.1981},{"d":"2015-04-27","b":1.1892},{"d":"2015-05-06","b":1.1812},{"d":"2015-05-15","b":1.1745},
{"d":"2015-05-25","b":1.1678},{"d":"2015-06-03","b":1.1616},{"d":"2015-06-12","b":1.1549},{"d":"2015-06-22","b":1.1473},
{"d":"2015-07-01","b":1.1415},{"d":"2015-07-10","b":1.1362},{"d":"2015-07-20","b":1.1308},{"d":"2015-07-29","b":1.1259},
{"d":"2015-08-07","b":1.121},{"d":"2015-08-17","b":1.1157},{"d":"2015-08-26","b":1.1117},{"d":"2015-09-04","b":1.1094},
{"d":"2015-09-14","b":1.1081},{"d":"2015-09-23","b":1.1077},{"d":"2015-10-02","b":1.1072},{"d":"2015-10-12","b":1.1077},
{"d":"2015-10-21","b":1.1085},{"d":"2015-10-30","b":1.1094},{"d":"2015-11-09","b":1.1094},{"d":"2015-11-18","b":1.109},
{"d":"2015-11-27","b":1.1085},{"d":"2015-12-07","b":1.1085},{"d":"2015-12-16","b":1.1085},{"d":"2015-12-27","b":1.1077},
{"d":"2016-01-06","b":1.1063},{"d":"2016-01-15","b":1.1054},{"d":"2016-01-25","b":1.1045},{"d":"2016-02-03","b":1.1036}
],
"h":[
{"d":"2015-02-02","d2":"2016-02-03","p":1.1112,"g":"bid"},
{"d":"2015-12-08","d2":"2016-02-03","p":1.105,"g":"green"},
{"d":"2015-12-03","d2":"2016-02-03","p":1.0823,"g":"green"},
{"d":"2015-08-24","d2":"2016-02-03","p":1.2449,"g":"fib"},
{"d":"2015-08-24","d2":"2016-02-03","p":1.1714,"g":"fib"},
{"d":"2015-08-24","d2":"2016-02-03","p":1.1459,"g":"fib"},
{"d":"2015-08-24","d2":"2016-02-03","p":1.1259,"g":"fib"},
{"d":"2015-08-24","d2":"2016-02-03","p":1.1119,"g":"fib"},
{"d":"2015-08-24","d2":"2016-02-03","p":1.0979,"g":"fib"},
{"d":"2015-08-24","d2":"2016-02-03","p":1.0805,"g":"fib"},
{"d":"2015-08-24","d2":"2016-02-03","p":1.0524,"g":"zero"},
{"d":"2015-02-02","d2":"2016-02-03","p":1.0716,"g":"red"}
],
"t":[
{"d":"2015-08-24","d2":"2016-02-03","p":1.1714,"p2":1.1039,"g":"tr"},
{"d":"2015-08-24","d2":"2015-12-03","p":1.1714,"p2":1.0524,"g":"dot"}
],
"z":[{"d":"2015-02-05","d2":"2016-02-03","p":1.0471,"p2":1.0524}]
},
"vconcat":[
{
"width":948,"height":510,
"resolve":{"axis":{"x":"independent","y":"independent"}},
"layer":[
{"data":{"name":"z"},"mark":{"type":"rect","color":"#f7c600"},
 "encoding":{
  "x":{"field":"d","type":"ordinal","scale":{"type":"band","paddingInner":0.25,"paddingOuter":0.125},
       "axis":{"orient":"top","labels":false,"ticks":false,"grid":false,"domain":true,"domainColor":"#9a9a9a","domainWidth":1.5,"title":null}},
  "x2":{"field":"d2"},
  "y":{"field":"p","type":"quantitative","scale":{"domain":[1.04126,1.26853],"nice":false,"zero":false},
       "axis":{"values":[1.045,1.0565,1.068,1.0795,1.091,1.1025,1.114,1.1255,1.137,1.1485,1.16,1.1715,1.183,1.1945,1.206,1.2175,1.229,1.2405,1.252,1.2635],"grid":true,"gridColor":"#cccccc","gridDash":[3,3],"labels":false,"ticks":false,"domain":false,"title":null}},
  "y2":{"field":"p2"}}},
{"data":{"name":"h"},"transform":[{"filter":"datum.g == 'bid'"}],"mark":{"type":"rule","color":"#c8bcb4","strokeWidth":1},
 "encoding":{
  "x":{"field":"d","type":"ordinal","scale":{"type":"band","paddingInner":0.25,"paddingOuter":0.125},"axis":null},
  "x2":{"field":"d2"},
  "y":{"field":"p","type":"quantitative","scale":{"domain":[1.04126,1.26853],"nice":false,"zero":false},"axis":null}}},
{"data":{"name":"h"},"transform":[{"filter":"datum.g == 'green'"}],"mark":{"type":"rule","color":"#9ee49e","strokeWidth":4.5},
 "encoding":{
  "x":{"field":"d","type":"ordinal","scale":{"type":"band","paddingInner":0.25,"paddingOuter":0.125},"axis":null},
  "x2":{"field":"d2"},
  "y":{"field":"p","type":"quantitative","scale":{"domain":[1.04126,1.26853],"nice":false,"zero":false},"axis":null}}},
{"data":{"name":"h"},"transform":[{"filter":"datum.g == 'fib'"}],"mark":{"type":"rule","color":"#5c5cba","strokeWidth":1.3},
 "encoding":{
  "x":{"field":"d","type":"ordinal","scale":{"type":"band","paddingInner":0.25,"paddingOuter":0.125},"axis":null},
  "x2":{"field":"d2"},
  "y":{"field":"p","type":"quantitative","scale":{"domain":[1.04126,1.26853],"nice":false,"zero":false},"axis":null}}},
{"data":{"name":"h"},"transform":[{"filter":"datum.g == 'zero'"}],"mark":{"type":"rule","color":"#333333","strokeWidth":1.5},
 "encoding":{
  "x":{"field":"d","type":"ordinal","scale":{"type":"band","paddingInner":0.25,"paddingOuter":0.125},"axis":null},
  "x2":{"field":"d2"},
  "y":{"field":"p","type":"quantitative","scale":{"domain":[1.04126,1.26853],"nice":false,"zero":false},"axis":null}}},
{"data":{"name":"h"},"transform":[{"filter":"datum.g == 'red'"}],"mark":{"type":"rule","color":"#c8325a","strokeWidth":1.5},
 "encoding":{
  "x":{"field":"d","type":"ordinal","scale":{"type":"band","paddingInner":0.25,"paddingOuter":0.125},"axis":null},
  "x2":{"field":"d2"},
  "y":{"field":"p","type":"quantitative","scale":{"domain":[1.04126,1.26853],"nice":false,"zero":false},"axis":null}}},
{"data":{"name":"k"},"mark":{"type":"rule","color":"#111111","strokeWidth":1},
 "encoding":{
  "x":{"field":"d","type":"ordinal","scale":{"type":"band","paddingInner":0.25,"paddingOuter":0.125},"axis":null},
  "y":{"field":"l","type":"quantitative","scale":{"domain":[1.04126,1.26853],"nice":false,"zero":false},"axis":null},
  "y2":{"field":"h"}}},
{"data":{"name":"k"},"mark":{"type":"bar","stroke":"#111111","strokeWidth":0.6},
 "encoding":{
  "x":{"field":"d","type":"ordinal","scale":{"type":"band","paddingInner":0.25,"paddingOuter":0.125},
       "axis":{"orient":"bottom","values":["2015-02-05","2015-02-15","2015-02-24","2015-03-05","2015-03-15","2015-03-24","2015-04-02","2015-04-12","2015-04-21","2015-04-30","2015-05-10","2015-05-19","2015-05-28","2015-06-07","2015-06-16","2015-06-25","2015-07-05","2015-07-14","2015-07-23","2015-08-02","2015-08-11","2015-08-20","2015-08-30","2015-09-08","2015-09-17","2015-09-27","2015-10-06","2015-10-15","2015-10-25","2015-11-03","2015-11-12","2015-11-22","2015-12-01","2015-12-10","2015-12-20","2015-12-30","2016-01-10","2016-01-19","2016-01-28"],
               "bandPosition":0.5,"grid":true,"gridColor":"#cccccc","gridDash":[3,3],"labels":false,"ticks":false,"domain":true,"domainColor":"#222222","domainWidth":2,"title":null}},
  "y":{"field":"o","type":"quantitative","scale":{"domain":[1.04126,1.26853],"nice":false,"zero":false},"axis":null},
  "y2":{"field":"c"},
  "fill":{"condition":{"test":"datum.c >= datum.o","value":"#ffffff"},"value":"#111111"}}},
{"data":{"name":"m200"},"mark":{"type":"line","color":"#23237a","strokeWidth":2,"clip":true},
 "encoding":{
  "x":{"field":"d","type":"ordinal","scale":{"type":"band","paddingInner":0.25,"paddingOuter":0.125},"axis":null},
  "y":{"field":"b","type":"quantitative","scale":{"domain":[1.04126,1.26853],"nice":false,"zero":false},"axis":null}}},
{"data":{"name":"m50"},"mark":{"type":"line","color":"#3d9de0","strokeWidth":2,"clip":true},
 "encoding":{
  "x":{"field":"d","type":"ordinal","scale":{"type":"band","paddingInner":0.25,"paddingOuter":0.125},"axis":null},
  "y":{"field":"a","type":"quantitative","scale":{"domain":[1.04126,1.26853],"nice":false,"zero":false},"axis":null}}},
{"data":{"name":"t"},"transform":[{"filter":"datum.g == 'dot'"}],"mark":{"type":"rule","color":"#e6a0a0","strokeWidth":1.5,"strokeDash":[4,3]},
 "encoding":{
  "x":{"field":"d","type":"ordinal","scale":{"type":"band","paddingInner":0.25,"paddingOuter":0.125},"axis":null},
  "x2":{"field":"d2"},
  "y":{"field":"p","type":"quantitative","scale":{"domain":[1.04126,1.26853],"nice":false,"zero":false},"axis":null},
  "y2":{"field":"p2"}}},
{"data":{"name":"t"},"transform":[{"filter":"datum.g == 'tr'"}],"mark":{"type":"rule","color":"#c8325a","strokeWidth":2},
 "encoding":{
  "x":{"field":"d","type":"ordinal","scale":{"type":"band","paddingInner":0.25,"paddingOuter":0.125},"axis":null},
  "x2":{"field":"d2"},
  "y":{"field":"p","type":"quantitative","scale":{"domain":[1.04126,1.26853],"nice":false,"zero":false},"axis":null},
  "y2":{"field":"p2"}}}
]
},
{
"width":948,"height":66,
"data":{"name":"k"},
"mark":{"type":"line","color":"#4c97dc","strokeWidth":1.6},
"encoding":{
 "x":{"field":"d","type":"ordinal","scale":{"type":"band","paddingInner":0.25,"paddingOuter":0.125},
      "axis":{"orient":"bottom","values":["2015-02-05","2015-02-15","2015-02-24","2015-03-05","2015-03-15","2015-03-24","2015-04-02","2015-04-12","2015-04-21","2015-04-30","2015-05-10","2015-05-19","2015-05-28","2015-06-07","2015-06-16","2015-06-25","2015-07-05","2015-07-14","2015-07-23","2015-08-02","2015-08-11","2015-08-20","2015-08-30","2015-09-08","2015-09-17","2015-09-27","2015-10-06","2015-10-15","2015-10-25","2015-11-03","2015-11-12","2015-11-22","2015-12-01","2015-12-10","2015-12-20","2015-12-30","2016-01-10","2016-01-19","2016-01-28"],
              "bandPosition":0.5,"grid":true,"gridColor":"#cccccc","gridDash":[3,3],
              "domain":true,"domainColor":"#777777","domainWidth":1,
              "ticks":true,"tickColor":"#555555","tickSize":4,
              "tickOpacity":{"condition":{"test":"indexof(lbl, datum.value) < 0","value":0},"value":1},
              "labelExpr":"indexof(lbl, datum.value) >= 0 ? utcFormat(toDate(datum.value), '%-d %b %Y') : ''",
              "labelAlign":"left","labelAngle":0,"labelOffset":-2,"labelFont":"Liberation Sans","labelFontSize":7,"labelColor":"#333333","labelPadding":2,"labelOverlap":false,"labelBound":false,"title":null}},
 "y":{"field":"r","type":"quantitative","scale":{"domain":[0,100],"nice":false,"zero":false},"axis":null}
}
}
]
}
